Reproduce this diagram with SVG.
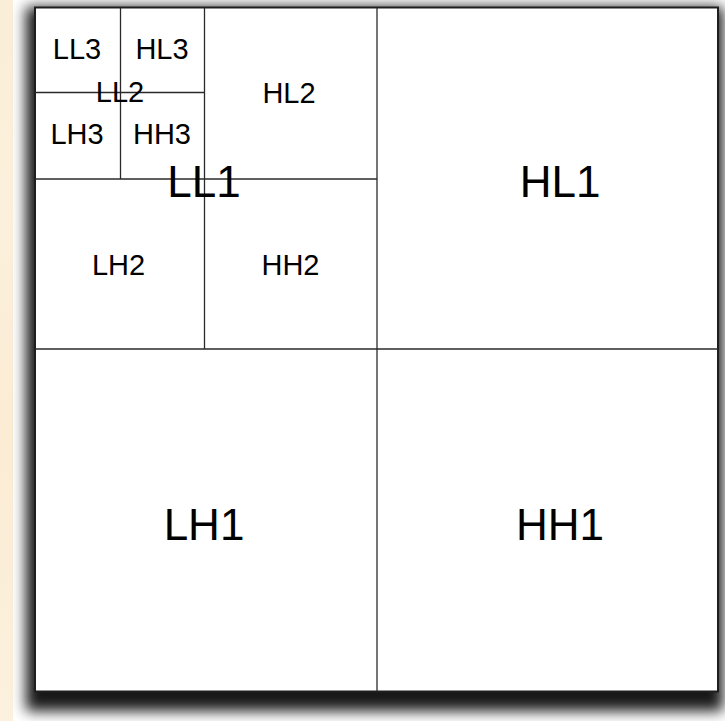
<svg xmlns="http://www.w3.org/2000/svg" width="725" height="721" viewBox="0 0 725 721">
  <style>
    .lbl { font-family: "Liberation Sans", Arial, Helvetica, sans-serif; fill: #000; text-anchor: middle; }
    .s { font-size: 29px; }
    .b { font-size: 44px; }
    .div { stroke: #2a2a2a; stroke-width: 1.3; fill: none; }
  </style>
  <defs>
    <filter id="shadow" x="-10%" y="-10%" width="120%" height="120%">
      <feGaussianBlur stdDeviation="7"/>
    </filter>
    <linearGradient id="cream" x1="0" y1="0" x2="0" y2="1">
      <stop offset="0" stop-color="#fbeed8"/>
      <stop offset="0.3" stop-color="#fcf0dc"/>
      <stop offset="0.6" stop-color="#fbecd4"/>
      <stop offset="1" stop-color="#fcf1de"/>
    </linearGradient>
  </defs>
  <rect x="0" y="0" width="725" height="721" fill="#ffffff"/>
  <rect x="0" y="0" width="13" height="721" fill="url(#cream)"/>
  <rect x="26" y="7" width="697" height="704" fill="#000" opacity="0.9" filter="url(#shadow)"/>
  <g id="frame">
    <rect x="35" y="7.5" width="683" height="684" fill="#ffffff" stroke="#1e1e1e" stroke-width="2"/>
  </g>
  <g id="connectors">
    <line class="div" x1="377" y1="7.5" x2="377" y2="691.5"/>
    <line class="div" x1="35" y1="349" x2="718" y2="349"/>
    <line class="div" x1="204.5" y1="7.5" x2="204.5" y2="349"/>
    <line class="div" x1="35" y1="179" x2="377" y2="179"/>
    <line class="div" x1="120.5" y1="7.5" x2="120.5" y2="179"/>
    <line class="div" x1="35" y1="92.5" x2="204.5" y2="92.5"/>
  </g>
  <g id="LL3"><text class="lbl s" x="77" y="59">LL3</text></g>
  <g id="HL3"><text class="lbl s" x="162" y="59">HL3</text></g>
  <g id="LH3"><text class="lbl s" x="77" y="144">LH3</text></g>
  <g id="HH3"><text class="lbl s" x="162" y="144">HH3</text></g>
  <g id="LL2"><text class="lbl s" x="120" y="102">LL2</text></g>
  <g id="HL2"><text class="lbl s" x="289" y="103">HL2</text></g>
  <g id="LH2"><text class="lbl s" x="118.5" y="275">LH2</text></g>
  <g id="HH2"><text class="lbl s" x="290.5" y="275">HH2</text></g>
  <g id="LL1"><text class="lbl b" x="204" y="197">LL1</text></g>
  <g id="HL1"><text class="lbl b" x="560" y="197">HL1</text></g>
  <g id="LH1"><text class="lbl b" x="204" y="540">LH1</text></g>
  <g id="HH1"><text class="lbl b" x="560" y="540">HH1</text></g>
</svg>
